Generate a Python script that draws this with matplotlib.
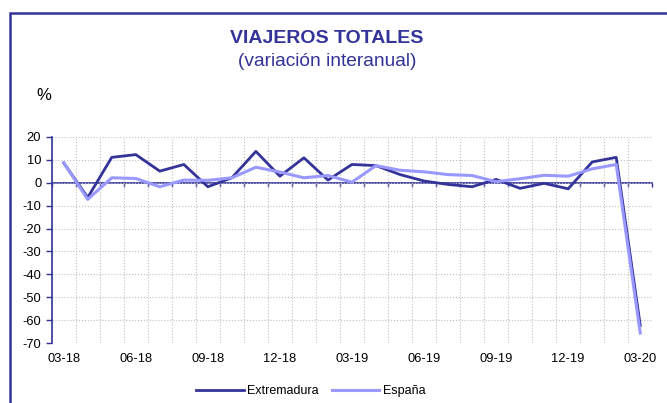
import numpy as np
import matplotlib
matplotlib.use("Agg")
import matplotlib.pyplot as plt
from matplotlib.patches import Rectangle

plt.rcParams['font.family'] = ['Liberation Sans', 'DejaVu Sans']
plt.rcParams['axes.unicode_minus'] = False

# datos
meses = ['03-18', '04-18', '05-18', '06-18', '07-18', '08-18', '09-18', '10-18', '11-18',
         '12-18', '01-19', '02-19', '03-19', '04-19', '05-19', '06-19', '07-19', '08-19',
         '09-19', '10-19', '11-19', '12-19', '01-20', '02-20', '03-20']
extremadura = [8.6, -6.5, 11.0, 12.2, 5.0, 7.9, -1.8, 2.1, 13.6, 2.8, 10.8, 1.1, 7.9,
               7.4, 3.5, 0.7, -0.8, -1.8, 1.4, -2.5, -0.3, -2.7, 9.0, 11.0, -62.2]
espana = [8.6, -7.3, 2.1, 1.8, -1.8, 1.1, 1.0, 2.1, 6.7, 4.6, 2.1, 3.1, 0.2,
          7.4, 5.4, 4.7, 3.5, 3.1, 0.4, 1.7, 3.2, 2.8, 6.0, 7.9, -65.5]
yticks = list(range(-70, 21, 10))

navy = '#333399'
light = '#9999ff'

fig = plt.figure(figsize=(6.67, 4.03), dpi=100)
ax = fig.add_axes([0.0775, 0.1481, 0.9004, 0.5127])

x = np.arange(len(meses))
ax.plot(x, extremadura, color=navy, lw=2, label='Extremadura', zorder=3)
ax.plot(x, espana, color=light, lw=2.2, label='España', zorder=4)

ax.set_xlim(-0.5, len(meses) - 0.5)
ax.set_ylim(-70, 20)

# rejilla
ax.set_yticks(yticks)
ax.set_xticks(np.arange(-0.5, len(meses) + 0.5, 1), minor=True)
ax.grid(True, which='major', axis='y', color='#c0c0c0', ls=':', lw=0.8)
ax.grid(True, which='minor', axis='x', color='#c0c0c0', ls=':', lw=0.8)
ax.set_axisbelow(True)

ax.set_xticks(x[::3])
ax.set_xticklabels(meses[::3], fontsize=9.3)
ax.tick_params(axis='x', which='both', length=0, pad=7)
ax.tick_params(axis='y', colors=navy, labelcolor='black', labelsize=9.3, length=4, width=1)

for s in ['top', 'right', 'bottom']:
    ax.spines[s].set_visible(False)
ax.spines['left'].set_color(navy)
ax.spines['left'].set_linewidth(1.2)

# eje de categorias en y=0
sec = ax.secondary_xaxis(70 / 90)
for sp in sec.spines.values():
    sp.set_color(navy)
    sp.set_linewidth(1.2)
sec.xaxis.set_ticks_position('bottom')
sec.set_xticks(np.arange(-0.5, len(meses) + 0.5, 1))
sec.set_xticklabels([])
sec.tick_params(axis='x', which='both', direction='out', length=3, width=1, color=navy)

# marco exterior
fig.patches.append(Rectangle((10 / 667, -0.1), 1.2, 1 - 13 / 403 + 0.1,
                             transform=fig.transFigure, fill=False,
                             edgecolor=navy, lw=1.8))

fig.text(0.4903, 0.905, 'VIAJEROS TOTALES', color=navy, fontsize=14,
         fontweight='bold', ha='center', va='center')
fig.text(0.4903, 0.848, '(variación interanual)', color=navy, fontsize=13.8,
         ha='center', va='center')
fig.text(0.055, 0.762, '%', fontsize=12, ha='left', va='center')

fig.legend(loc='center', bbox_to_anchor=(0.466, 0.03), ncol=2, frameon=False,
           fontsize=9, handlelength=3.8, columnspacing=1.0, handletextpad=0.3)

fig.savefig('out.png', dpi=100)
